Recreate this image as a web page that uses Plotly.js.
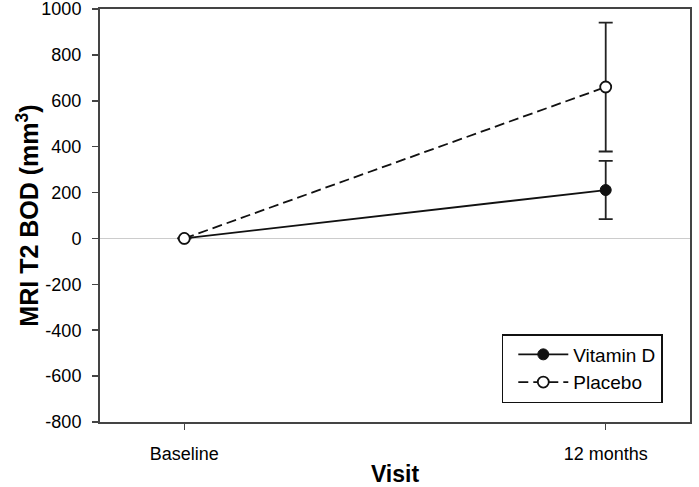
<!DOCTYPE html>
<html>
<head>
<meta charset="utf-8">
<script src="https://cdn.plot.ly/plotly-3.0.1.min.js"></script>
<style>
  html, body { margin: 0; padding: 0; background: #fff; }
  #chart { width: 699px; height: 487px; }
</style>
</head>
<body>
<div id="chart"></div>
<script>
// values
var visits = ['Baseline', '12 months'];
var vitD = [0, 211];
var vitDErr = [null, 127];
var placebo = [0, 660];
var placeboErr = [null, 281];
var yTicks = [-800, -600, -400, -200, 0, 200, 400, 600, 800, 1000];
var yTickText = ['-800', '-600', '-400', '-200', '0', '200', '400', '600', '800', '1000'];

var font = 'Liberation Sans, Arial, sans-serif';

var data = [{
    name: 'Vitamin D',
    x: visits,
    y: vitD,
    type: 'scatter',
    mode: 'lines+markers',
    line: { color: '#111', width: 1.8 },
    marker: { size: 11, color: '#111', line: { color: '#111', width: 1 } },
    error_y: { type: 'data', array: vitDErr, visible: true, color: '#222', thickness: 1.8, width: 7 }
}, {
    name: 'Placebo',
    x: visits,
    y: placebo,
    type: 'scatter',
    mode: 'lines+markers',
    line: { color: '#111', width: 1.8, dash: '10px,5px' },
    marker: { size: 11, color: '#fff', line: { color: '#111', width: 1.8 } },
    error_y: { type: 'data', array: placeboErr, visible: true, color: '#222', thickness: 1.8, width: 7 }
}];

var layout = {
    width: 699,
    height: 487,
    paper_bgcolor: '#fff',
    plot_bgcolor: '#fff',
    font: { family: font, size: 17, color: '#000' },
    margin: { l: 100, r: 9, t: 9, b: 65, pad: 0 },
    showlegend: true,
    legend: {
        x: 0.681, y: 0.046,
        xanchor: 'left', yanchor: 'bottom',
        bgcolor: '#fff',
        bordercolor: '#111',
        borderwidth: 1.5,
        itemwidth: 50,
        indentation: 10,
        font: { family: font, size: 19, color: '#000' },
        tracegroupgap: 2
    },
    xaxis: {
        type: 'category',
        range: [-0.2, 1.2],
        showline: true,
        mirror: true,
        linecolor: '#444',
        linewidth: 2,
        ticks: 'outside',
        ticklen: 6,
        tickcolor: '#444',
        tickwidth: 1.5,
        ticklabelstandoff: 8,
        showgrid: false,
        zeroline: false,
        tickfont: { family: font, size: 18, color: '#000' },
        title: { text: 'Visit', font: { family: font, size: 23, color: '#000', weight: 'bold' } }
    },
    yaxis: {
        range: [-800, 1000],
        tickvals: yTicks,
        ticktext: yTickText,
        showline: true,
        mirror: true,
        linecolor: '#444',
        linewidth: 2,
        ticks: 'outside',
        ticklen: 6,
        tickcolor: '#444',
        tickwidth: 1.5,
        ticklabelstandoff: 7,
        ticklabeloverflow: 'allow',
        showgrid: false,
        zeroline: true,
        zerolinecolor: '#cccccc',
        zerolinewidth: 1.5,
        tickfont: { family: font, size: 18, color: '#000' },
        title: { text: 'MRI T2 BOD (mm<sup>3</sup>)', font: { family: font, size: 25, color: '#000', weight: 'bold' } }
    }
};

Plotly.newPlot('chart', data, layout, { displayModeBar: false, staticPlot: true });
</script>
</body>
</html>
